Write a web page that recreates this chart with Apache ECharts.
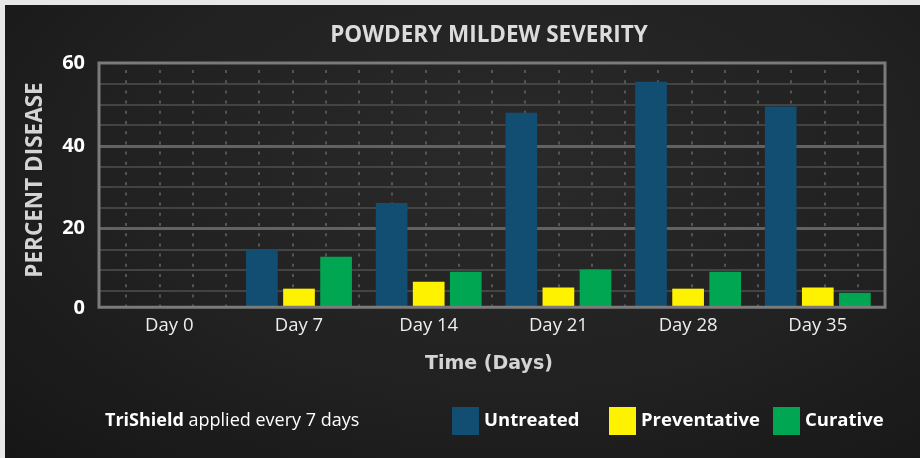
<!DOCTYPE html>
<html>
<head>
<meta charset="utf-8">
<style>
    html, body { margin: 0; padding: 0; background: #e8e8e8; }
    /* dark chalkboard panel behind the chart */
    #board {
        position: absolute; left: 5px; top: 5px; width: 915px; height: 453px;
        background: radial-gradient(ellipse at 55% 35%, #2a2a2a 0%, #212121 55%, #161616 100%);
    }
    #chart { position: absolute; left: 0; top: 0; width: 920px; height: 458px; }
</style>
<script src="https://cdn.jsdelivr.net/npm/echarts@6/dist/echarts.min.js"></script>
</head>
<body>
<div id="board"></div>
<div id="chart"></div>
<script>
    // data
    var days = ['Day 0', 'Day 7', 'Day 14', 'Day 21', 'Day 28', 'Day 35'];
    var untreated = [0, 15.1, 26.2, 48.0, 55.5, 49.5];
    var preventative = [0, 5.5, 7.2, 5.8, 5.5, 5.8];
    var curative = [0, 13.2, 9.6, 10.1, 9.6, 4.5];
    var yMax = 60, yStep = 20, yMinorStep = 5;

    var sans = '"Open Sans", "Noto Sans", sans-serif';
    var plotTop = 63, plotH = 244.3;

    var chart = echarts.init(document.getElementById('chart'));
    var option = {
        backgroundColor: 'transparent',
        animation: false,
        grid: [
            // frame
            {left: 99, right: 35, top: plotTop, height: plotH, show: true, borderColor: '#7b7b7b', borderWidth: 3, backgroundColor: 'transparent', z: 10},
            // horizontal grid + y labels (0..60, the frame cuts it at 1)
            {left: 99, right: 35, top: plotTop, height: plotH * 60 / 59},
            // dashed verticals
            {left: 126, right: 62.3, top: plotTop, height: plotH},
            // bars
            {left: 104.45, right: 37.35, top: plotTop, height: plotH}
        ],
        xAxis: [
            {gridIndex: 0, type: 'category', data: days, show: false},
            {gridIndex: 1, type: 'value', show: false},
            {
                gridIndex: 2, type: 'value', min: 0, max: 22, interval: 1,
                axisLine: {show: false}, axisTick: {show: false}, axisLabel: {show: false},
                splitLine: {show: true, showMinLine: true, showMaxLine: true,
                    lineStyle: {color: '#666', width: 1.5, type: [3, 7.2], dashOffset: 3.2}}
            },
            {
                gridIndex: 3, type: 'category', data: days,
                axisLine: {show: false}, axisTick: {show: false},
                axisLabel: {margin: 9, color: '#eeeeee', fontFamily: sans, fontSize: 18.5}
            }
        ],
        yAxis: [
            {gridIndex: 0, type: 'value', show: false},
            {
                gridIndex: 1, type: 'value', position: 'left', min: 0, max: yMax, interval: yMinorStep,
                axisLine: {show: false}, axisTick: {show: false}, axisLabel: {show: false},
                splitLine: {showMinLine: false, showMaxLine: false, lineStyle: {color: '#4f4f4f', width: 1.5}}
            },
            {
                gridIndex: 1, type: 'value', position: 'left', min: 0, max: yMax, interval: yStep,
                axisLine: {show: false}, axisTick: {show: false},
                splitLine: {showMinLine: false, showMaxLine: false, lineStyle: {color: '#626262', width: 3}},
                axisLabel: {
                    margin: 14,
                    formatter: function (v) { return v === 0 ? '{z|0}' : '{n|' + v + '}'; },
                    rich: {
                        n: {color: '#fff', fontFamily: sans, fontWeight: 'bold', fontSize: 20},
                        z: {color: '#fff', fontFamily: sans, fontWeight: 'bold', fontSize: 20, padding: [0, 0, 7, 0]}
                    }
                }
            },
            {gridIndex: 2, type: 'value', show: false},
            {gridIndex: 3, type: 'value', min: 1, max: yMax, show: false}
        ],
        legend: [
            {data: ['Untreated'], left: 452, top: 407},
            {data: ['Preventative'], left: 609, top: 407},
            {data: ['Curative'], left: 773, top: 407}
        ].map(function (l) {
            l.padding = 0;
            l.icon = 'rect';
            l.itemWidth = 27;
            l.itemHeight = 28;
            l.selectedMode = false;
            l.textStyle = {color: '#fff', fontFamily: sans, fontWeight: 'bold', fontSize: 18.5};
            return l;
        }),
        graphic: [
            {type: 'text', x: 489, y: 36, style: {text: 'POWDERY MILDEW SEVERITY', fill: '#dcdcdc',
                fontFamily: sans, fontWeight: 'bold', fontSize: 22.5, align: 'center', verticalAlign: 'middle'}},
            {type: 'text', x: 35.5, y: 180, rotation: Math.PI / 2, style: {text: 'PERCENT DISEASE', fill: '#d4d4d4',
                fontFamily: sans, fontWeight: 'bold', fontSize: 22.5, align: 'center', verticalAlign: 'middle'}},
            {type: 'text', x: 489, y: 364, style: {text: 'Time (Days)', fill: '#d4d4d4',
                fontFamily: '"DejaVu Sans", sans-serif', fontWeight: 'bold', fontSize: 19, align: 'center', verticalAlign: 'middle'}},
            {type: 'text', x: 105, y: 421, style: {text: '{b|TriShield} applied every 7 days', fill: '#fff',
                fontFamily: sans, fontSize: 18, verticalAlign: 'middle',
                rich: {b: {fontFamily: sans, fontSize: 18, fontWeight: 'bold', fill: '#fff'}}}}
        ],
        series: [
            {name: 'Untreated', type: 'bar', xAxisIndex: 3, yAxisIndex: 4, data: untreated,
                barWidth: 31.7, barGap: '17%', itemStyle: {color: '#114e71'}},
            {name: 'Preventative', type: 'bar', xAxisIndex: 3, yAxisIndex: 4, data: preventative,
                barWidth: 31.7, barGap: '17%', itemStyle: {color: '#fff200'}},
            {name: 'Curative', type: 'bar', xAxisIndex: 3, yAxisIndex: 4, data: curative,
                barWidth: 31.7, barGap: '17%', itemStyle: {color: '#00a651'}}
        ]
    };
    chart.setOption(option);
</script>
</body>
</html>
